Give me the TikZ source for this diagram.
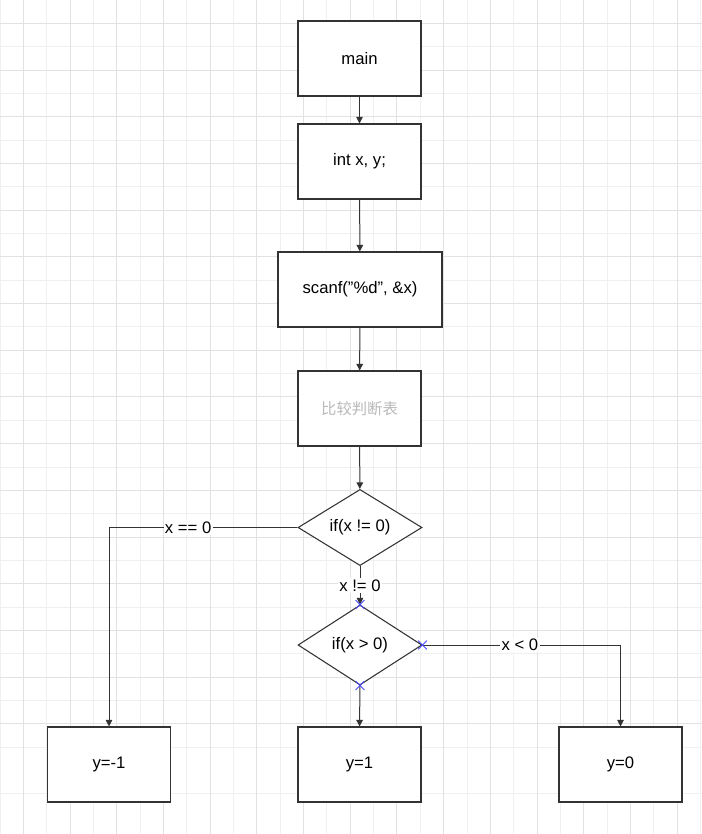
\documentclass[tikz,border=0pt]{standalone}
\usepackage{fontspec}
\setmainfont{Liberation Sans}
\newfontfamily\cjkfont{Noto Sans CJK SC}
\usetikzlibrary{arrows.meta,positioning,calc,shapes.geometric,shapes.misc}
\definecolor{linegray}{HTML}{333333}
\definecolor{gridmajor}{HTML}{E2E2E2}
\definecolor{gridminor}{HTML}{F0F0F0}
\definecolor{markblue}{HTML}{4A4AFF}
\tikzset{
  % Base styles
  chart base/.style={
    x=0.75pt, y=-0.75pt,
    >={Triangle[length=5pt,width=5pt]},
    every node/.style={font=\fontsize{12.5}{14}\selectfont, text=black},
  },
  % Flow chart nodes
  proc box/.style={rectangle, draw=linegray, line width=0.8pt, minimum width=92.25pt, minimum height=56.25pt, inner sep=2pt, fill=white},
  wide box/.style={proc box, minimum width=123pt},
  cond node/.style={diamond, draw=linegray, line width=0.8pt, minimum width=93pt, minimum height=56.25pt, inner sep=0pt, fill=white},
  % Connectors
  flow/.style={->, draw=linegray, line width=0.75pt},
  edge label/.style={fill=white, inner sep=1pt},
  % Connection point marks
  pin mark/.style={cross out, draw=markblue, line width=0.6pt, minimum size=6pt, inner sep=0pt},
}

\begin{document}
\begin{tikzpicture}[chart base]
\useasboundingbox (0,0) rectangle (702,834);

% Background grid
\fill[white] (0,0) rectangle (702,834);
\foreach \i in {0,...,30} {
  \draw[gridminor, line width=0.75pt] ({46.7*\i},0) -- ({46.7*\i},834);
  \draw[gridminor, line width=0.75pt] (0,{46.7*\i}) -- (702,{46.7*\i});
}
\foreach \i in {0,...,15} {
  \draw[gridmajor, line width=0.75pt] ({23.35+46.7*\i},0) -- ({23.35+46.7*\i},834);
  \draw[gridmajor, line width=0.75pt] (0,{23.35+46.7*\i}) -- (702,{23.35+46.7*\i});
}

% Main column
\node[proc box] (main) at (359.5,58.5) {main};
\node[proc box] (decl) at (359.5,161.5) {int x, y;};
\node[wide box] (scan) at (360,289.5) {scanf("\%d", \&x)};
\node[proc box] (cmp) at (359.5,408.5) {\cjkfont\fontsize{11.5}{13}\selectfont\color{gray!55}比较判断表};
\node[cond node] (ifne) at (360,527.5) {if(x != 0)};
\node[cond node, minimum height=60pt] (ifgt) at (360,645) {if(x > 0)};

% Result boxes
\node[proc box] (yone) at (359.5,764.5) {y=1};
\node[proc box] (yneg) at (109,764.5) {y=-1};
\node[proc box] (yzero) at (620.5,764.5) {y=0};

% Sequence edges
\draw[flow] (main) -- (decl);
\draw[flow] (decl) -- (scan);
\draw[flow] (scan) -- (cmp);
\draw[flow] (cmp) -- (ifne);

% Branches
\draw[flow] (ifne.south) -- node[edge label] {x != 0} (ifgt.north);
\draw[flow] (ifne.west) -| node[edge label, pos=0.29] {x == 0} (yneg.north);
\draw[flow] (ifgt.south) -- (yone.north);
\draw[flow] (ifgt.east) -| node[edge label, pos=0.246] {x < 0} (yzero.north);

% Connection points
\foreach \a in {north,east,south}
  \node[pin mark] at (ifgt.\a) {};
\end{tikzpicture}
\end{document}
